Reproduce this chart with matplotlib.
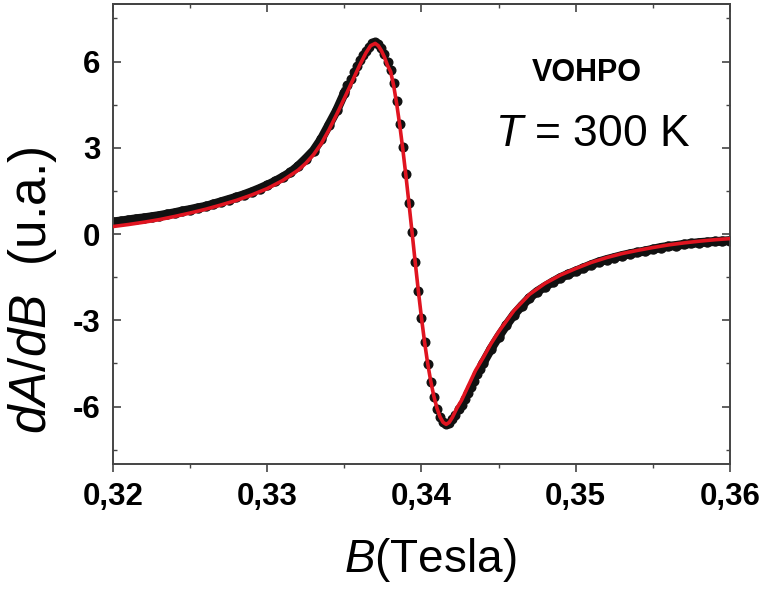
import numpy as np
import matplotlib
matplotlib.use("Agg")
import matplotlib.pyplot as plt
from matplotlib.ticker import MultipleLocator, FuncFormatter

plt.rcParams['font.family'] = ['Liberation Sans', 'DejaVu Sans']
plt.rcParams['mathtext.fontset'] = 'custom'
plt.rcParams['mathtext.rm'] = 'Liberation Sans'
plt.rcParams['mathtext.it'] = 'Liberation Sans:italic'
plt.rcParams['mathtext.bf'] = 'Liberation Sans:bold'

# measured spectrum, low-field tail (dense, drawn as a band)
meas_left_b = [0.3200, 0.3205, 0.3210, 0.3215, 0.3220, 0.3225, 0.3230, 0.3235, 0.3240, 0.3245,
               0.3250, 0.3255, 0.3260, 0.3265, 0.3270, 0.3275, 0.3280, 0.3285, 0.3290, 0.3295,
               0.3300, 0.3305, 0.3310, 0.3315, 0.3320, 0.3325, 0.3330, 0.3335, 0.3340, 0.3345,
               0.3350]
meas_left_y = [0.42, 0.45, 0.49, 0.53, 0.56, 0.60, 0.64, 0.69, 0.74, 0.80,
               0.85, 0.91, 0.96, 1.04, 1.12, 1.20, 1.28, 1.37, 1.47, 1.58,
               1.70, 1.83, 1.98, 2.14, 2.36, 2.62, 2.90, 3.30, 3.80, 4.30,
               4.90]

# measured spectrum, central line (individual points visible)
meas_mid_b = [0.3352, 0.3354, 0.3356, 0.3358, 0.3360, 0.3362, 0.3364, 0.3366, 0.3368, 0.3370,
              0.3372, 0.3374, 0.3376, 0.3378, 0.3380, 0.3382, 0.3384, 0.3386, 0.3388, 0.3390,
              0.3392, 0.3394, 0.3396, 0.3398, 0.3400, 0.3402, 0.3404, 0.3406, 0.3408, 0.3410,
              0.3412, 0.3414, 0.3416, 0.3418, 0.3420, 0.3422, 0.3424, 0.3426, 0.3428, 0.3430,
              0.3432, 0.3434, 0.3436, 0.3438]
meas_mid_y = [5.18, 5.40, 5.62, 5.85, 6.05, 6.22, 6.38, 6.52, 6.63, 6.68,
              6.62, 6.47, 6.26, 6.00, 5.72, 5.26, 4.62, 3.82, 3.01, 2.08,
              1.08, 0.06, -0.98, -1.99, -2.92, -3.75, -4.51, -5.14, -5.66, -6.07,
              -6.35, -6.53, -6.62, -6.58, -6.45, -6.28, -6.10, -5.93, -5.74, -5.54,
              -5.32, -5.10, -4.88, -4.68]

# measured spectrum, high-field tail
meas_right_b = [0.3440, 0.3445, 0.3450, 0.3455, 0.3460, 0.3465, 0.3470, 0.3475, 0.3480, 0.3485,
                0.3490, 0.3495, 0.3500, 0.3505, 0.3510, 0.3515, 0.3520, 0.3525, 0.3530, 0.3535,
                0.3540, 0.3545, 0.3550, 0.3555, 0.3560, 0.3565, 0.3570, 0.3575, 0.3580, 0.3585,
                0.3590, 0.3595, 0.3600]
meas_right_y = [-4.48, -4.00, -3.57, -3.17, -2.80, -2.50, -2.22, -2.00, -1.83, -1.67,
                -1.52, -1.40, -1.29, -1.18, -1.07, -0.97, -0.89, -0.82, -0.75, -0.69,
                -0.64, -0.59, -0.53, -0.47, -0.43, -0.40, -0.36, -0.33, -0.30, -0.28,
                -0.26, -0.25, -0.23]

# fitted curve
fit_b = [0.3200, 0.3210, 0.3220, 0.3230, 0.3240, 0.3250, 0.3260, 0.3270, 0.3280, 0.3290,
         0.3300, 0.3310, 0.3320, 0.3325, 0.3330, 0.3335, 0.3340, 0.3345, 0.3350, 0.3355,
         0.3360, 0.3364, 0.3367, 0.3370, 0.3372, 0.3374, 0.3376, 0.3378, 0.3380, 0.3382,
         0.3384, 0.3386, 0.3388, 0.3390, 0.3392, 0.3394, 0.3396, 0.3398, 0.3400, 0.3402,
         0.3404, 0.3406, 0.3408, 0.3410, 0.3412, 0.3414, 0.3416, 0.3418, 0.3420, 0.3423,
         0.3426, 0.3430, 0.3435, 0.3440, 0.3445, 0.3450, 0.3460, 0.3470, 0.3480, 0.3490,
         0.3500, 0.3510, 0.3520, 0.3530, 0.3540, 0.3550, 0.3560, 0.3570, 0.3580, 0.3590,
         0.3600]
fit_y = [0.26, 0.33, 0.41, 0.50, 0.61, 0.73, 0.86, 1.01, 1.17, 1.36,
         1.58, 1.86, 2.22, 2.46, 2.76, 3.14, 3.62, 4.16, 4.72, 5.30,
         5.88, 6.30, 6.55, 6.63, 6.55, 6.38, 6.15, 5.86, 5.65, 5.15,
         4.50, 3.75, 2.90, 1.98, 1.00, 0.00, -1.02, -2.00, -2.92, -3.76,
         -4.50, -5.12, -5.64, -6.05, -6.36, -6.55, -6.62, -6.55, -6.38, -6.05,
         -5.78, -5.32, -4.75, -4.30, -3.82, -3.40, -2.66, -2.10, -1.72, -1.43,
         -1.20, -0.99, -0.82, -0.68, -0.57, -0.47, -0.38, -0.31, -0.25, -0.20,
         -0.16]

x_ticks = [0.32, 0.33, 0.34, 0.35, 0.36]
y_ticks = [-6, -3, 0, 3, 6]

fig = plt.figure(figsize=(7.66, 5.89), dpi=100)
ax = fig.add_axes([0.1475, 0.2122, 0.8055, 0.781])

black = '#111111'
red = '#e01420'
ax.plot(meas_left_b, meas_left_y, '-o', color=black, lw=6.5, ms=6.5, zorder=2)
ax.plot(meas_right_b, meas_right_y, '-o', color=black, lw=6.5, ms=6.5, zorder=2)
ax.plot(meas_mid_b, meas_mid_y, 'o', color=black, ms=6.2, zorder=2)
ax.plot(fit_b, fit_y, '-', color=red, lw=2.6, zorder=3)

ax.set_xlim(0.32, 0.36)
ax.set_ylim(-8, 8)
ax.set_xticks(x_ticks)
ax.set_yticks(y_ticks)
ax.xaxis.set_minor_locator(MultipleLocator(0.005))
ax.yaxis.set_minor_locator(MultipleLocator(1.5))
ax.xaxis.set_major_formatter(FuncFormatter(lambda v, p: f"{v:.2f}".replace('.', ',')))
ax.yaxis.set_major_formatter(FuncFormatter(lambda v, p: f"{v:.0f}"))

ax.tick_params(axis='x', which='both', direction='out', bottom=True, top=False)
ax.tick_params(axis='y', which='both', direction='in', left=True, right=True)
ax.tick_params(which='major', length=6, width=1.2, color='#444444')
ax.tick_params(which='minor', length=3, width=1.0, color='#444444')
ax.tick_params(axis='x', which='major', pad=7)
ax.tick_params(axis='y', which='major', pad=9)

# top ticks point inward
sec = ax.secondary_xaxis('top')
sec.set_xticks(x_ticks)
sec.xaxis.set_minor_locator(MultipleLocator(0.005))
sec.tick_params(which='both', direction='in', labeltop=False, color='#444444')
sec.tick_params(which='major', length=6, width=1.2)
sec.tick_params(which='minor', length=3, width=1.0)
sec.spines['top'].set_linewidth(1.4)
sec.spines['top'].set_color('#444444')

for lab in ax.get_xticklabels() + ax.get_yticklabels():
    lab.set_fontsize(22.5)
    lab.set_fontweight('bold')

for s in ax.spines.values():
    s.set_linewidth(1.4)
    s.set_color('#444444')

ax.set_xlabel('$B$(Tesla)', fontsize=33)
ax.set_ylabel('$dA/dB$  (u.a.)', fontsize=37)
ax.xaxis.label.set_va('center')
ax.yaxis.label.set_va('center')
ax.xaxis.set_label_coords(0.514, -0.209)
ax.yaxis.set_label_coords(-0.13, 0.378)

ax.text(0.35073, 5.31, 'VOHPO', fontsize=22, fontweight='bold', ha='center', va='baseline')
ax.text(0.35112, 3.05, '$T$ = 300 K', fontsize=32, ha='center', va='baseline')

fig.savefig('out.png', dpi=100)
